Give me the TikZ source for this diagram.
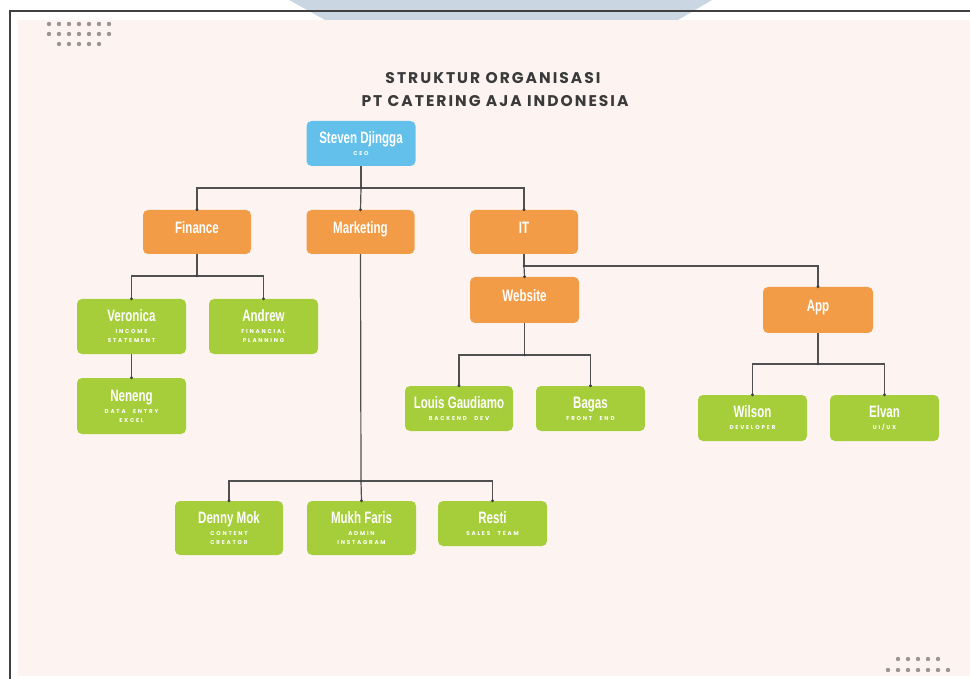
\documentclass[tikz,border=0pt]{standalone}
\usepackage{fontspec}
\setmainfont{Liberation Sans}
\newfontfamily\namef[FakeStretch=0.7]{Liberation Sans}
\newfontfamily\subf[LetterSpace=32,WordSpace=2.5]{Poppins}
\newfontfamily\titf[LetterSpace=13]{Poppins}
\definecolor{blueC}{HTML}{63C0EB}
\definecolor{orangeC}{HTML}{F39C47}
\definecolor{greenC}{HTML}{A5CE3A}
\definecolor{pinkC}{HTML}{FDF4F2}
\definecolor{lineC}{HTML}{505050}
\definecolor{dotC}{HTML}{9A9494}
\definecolor{titleC}{HTML}{3A3A3A}
\definecolor{waterC}{HTML}{CAD7E3}
\newcommand\nm[1]{{\namef\bfseries\fontsize{16.5}{16.5}\selectfont #1}}
\tikzset{
  box/.style={rounded corners=5pt, minimum width=109pt, minimum height=45pt,
    inner sep=0pt, align=center, text=white,
    font=\subf\bfseries\fontsize{5.6}{9}\selectfont},
  bluebox/.style={box, fill=blueC},
  orangebox/.style={box, fill=orangeC, text height=12pt, text depth=9pt},
  greenbox/.style={box, fill=greenC},
  conn/.style={draw=lineC, line width=1.2pt},
  titlestyle/.style={text=titleC, inner sep=0pt, font=\titf\bfseries\fontsize{15.5}{17}\selectfont}
}
\begin{document}
\begin{tikzpicture}[x=1pt,y=-1pt]
\useasboundingbox (0,0) rectangle (970,679);
\fill[white] (0,0) rectangle (970,679);
% watermark
\fill[waterC] (289,0) -- (712,0) -- (678,20) -- (325,20) -- cycle;
% frame lines
\draw[line width=1.4pt, draw=black!75] (10,679) -- (10,11) -- (970,11);
% background
\fill[pinkC] (18,20) rectangle (970,676);
% dot patterns
\foreach \i in {0,...,6} {
  \fill[dotC] (49+10*\i,24) circle[radius=2.2pt];
  \fill[dotC] (49+10*\i,34) circle[radius=2.2pt];
  \fill[dotC] (888+10*\i,670) circle[radius=2.2pt];
}
\foreach \i in {0,...,4} {
  \fill[dotC] (59+10*\i,44) circle[radius=2.2pt];
  \fill[dotC] (898+10*\i,659) circle[radius=2.2pt];
}
% title
\node[titlestyle] (t1) at (493,78) {STRUKTUR ORGANISASI};
\node[titlestyle] (t2) at (495,101) {PT CATERING AJA INDONESIA};
% boxes
\node[bluebox] (ceo) at (361,143.5) {\nm{Steven Djingga}\\[3pt]CEO};
\node[orangebox, minimum width=108pt, minimum height=44pt] (finance) at (197,232) {\nm{Finance}};
\node[orangebox, minimum width=108pt, minimum height=44pt] (marketing) at (360.5,232) {\nm{Marketing}};
\node[orangebox, minimum width=108pt, minimum height=44pt] (it) at (524,232) {\nm{IT}};
\node[greenbox, minimum height=55pt] (veronica) at (131.5,326.5) {\nm{Veronica}\\[3pt]INCOME\\STATEMENT};
\node[greenbox, minimum height=55pt] (andrew) at (263.5,326.5) {\nm{Andrew}\\[3pt]FINANCIAL\\PLANNING};
\node[greenbox, minimum height=56pt] (neneng) at (131.5,406) {\nm{Neneng}\\[3pt]DATA ENTRY\\EXCEL};
\node[orangebox, minimum height=46pt] (website) at (524.5,300) {\nm{Website}};
\node[orangebox, minimum width=110pt, minimum height=46pt] (app) at (818,310) {\nm{App}};
\node[greenbox, minimum width=108pt] (louis) at (459,408.5) {\nm{Louis Gaudiamo}\\[3pt]BACKEND DEV};
\node[greenbox] (bagas) at (590.5,408.5) {\nm{Bagas}\\[3pt]FRONT END};
\node[greenbox, minimum height=46pt] (wilson) at (752.5,418) {\nm{Wilson}\\[3pt]DEVELOPER};
\node[greenbox, minimum height=46pt] (elvan) at (884.5,418) {\nm{Elvan}\\[3pt]UI/UX};
\node[greenbox, minimum width=108pt, minimum height=54pt] (denny) at (229,528) {\nm{Denny Mok}\\[3pt]CONTENT\\CREATOR};
\node[greenbox, minimum height=54pt] (mukh) at (361.5,528) {\nm{Mukh Faris}\\[3pt]ADMIN\\INSTAGRAM};
\node[greenbox] (resti) at (492.5,523.5) {\nm{Resti}\\[3pt]SALES TEAM};
% junctions
\coordinate (b1) at (361,188);
\coordinate (b2) at (361,481);
\coordinate (b3) at (197,276);
\coordinate (b4) at (524,266);
\coordinate (b5) at (524.5,355);
\coordinate (b6) at (818,364);
% connectors
\draw[conn] (ceo.south) -- (b1);
\draw[conn] (finance.north) |- (b1) -| (it.north);
\draw[conn] (b1) -- (marketing.north);
\draw[conn] (marketing.south) -- (b2);
\draw[conn] (denny.north) |- (b2) -| (resti.north);
\draw[conn] (b2) -- (mukh.north);
\draw[conn] (finance.south) -- (b3);
\draw[conn] (veronica.north) |- (b3) -| (andrew.north);
\draw[conn] (veronica.south) -- (neneng.north);
\draw[conn] (it.south) -- (b4);
\draw[conn] (b4) -- (website.north);
\draw[conn] (b4) -| (app.north);
\draw[conn] (website.south) -- (b5);
\draw[conn] (louis.north) |- (b5) -| (bagas.north);
\draw[conn] (app.south) -- (b6);
\draw[conn] (wilson.north) |- (b6) -| (elvan.north);
% end dots
\foreach \n in {finance,marketing,it,veronica,andrew,neneng,website,app,louis,bagas,wilson,elvan,denny,mukh,resti}
  \fill[lineC!80!black] (\n.north) circle[radius=1.6pt];
\foreach \c in {b1,b2,b3,b4,b5,b6}
  \fill[lineC!80!black] (\c) circle[radius=1.4pt];
\end{tikzpicture}
\end{document}
